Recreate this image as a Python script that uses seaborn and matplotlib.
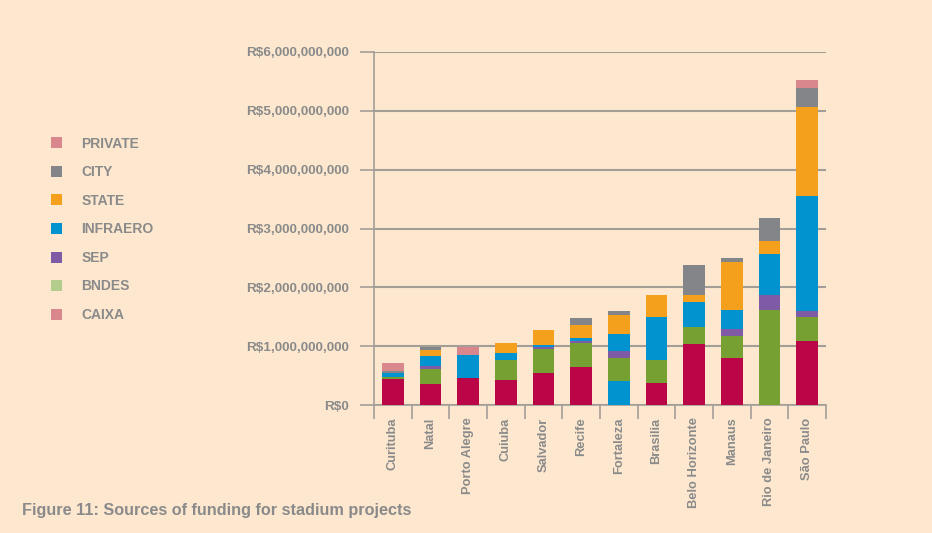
import matplotlib
matplotlib.use("Agg")
import matplotlib.pyplot as plt
import seaborn as sns
import numpy as np
from matplotlib.patches import Patch
from matplotlib.ticker import FuncFormatter, FixedLocator

cities = ["Curituba", "Natal", "Porto Alegre", "Cuiuba", "Salvador", "Recife",
          "Fortaleza", "Brasilia", "Belo Horizonte", "Manaus", "Rio de Janeiro", "São Paulo"]
# values in R$ billions (bottom to top of each stack)
caixa    = [0.446, 0.360, 0.463, 0.429, 0.549, 0.651, 0.411, 0.377, 1.029, 0.806, 0.000, 1.092]
bndes    = [0.034, 0.257, 0.000, 0.343, 0.411, 0.400, 0.394, 0.394, 0.291, 0.360, 1.623, 0.407]
sep      = [0.000, 0.051, 0.000, 0.000, 0.034, 0.034, 0.120, 0.000, 0.000, 0.120, 0.249, 0.102]
infraero = [0.069, 0.171, 0.394, 0.120, 0.034, 0.046, 0.274, 0.720, 0.429, 0.326, 0.701, 1.951]
state    = [0.000, 0.103, 0.000, 0.154, 0.240, 0.223, 0.326, 0.377, 0.120, 0.823, 0.215, 1.510]
city     = [0.034, 0.051, 0.000, 0.000, 0.000, 0.120, 0.069, 0.000, 0.514, 0.069, 0.390, 0.322]
private  = [0.137, 0.000, 0.137, 0.000, 0.000, 0.000, 0.000, 0.000, 0.000, 0.000, 0.000, 0.136]

series_names = ["CAIXA", "BNDES", "SEP", "INFRAERO", "STATE", "CITY", "PRIVATE"]
series_vals = [caixa, bndes, sep, infraero, state, city, private]
bar_colors = ["#BA0647", "#77A033", "#7F5BA6", "#0093D0", "#F5A01D", "#848589", "#D9868D"]
legend_colors = {"PRIVATE": "#D9868D", "CITY": "#848589", "STATE": "#F5A01D",
                 "INFRAERO": "#0093D0", "SEP": "#7F5BA6", "BNDES": "#B4CC8C", "CAIXA": "#D9868D"}
legend_order = ["PRIVATE", "CITY", "STATE", "INFRAERO", "SEP", "BNDES", "CAIXA"]

BG = "#FDE8CF"
TXT = "#8A8A8A"
GRID = "#A39D97"
FONT = ["Liberation Sans", "DejaVu Sans"]

sns.set_style("white")
plt.rcParams["font.family"] = FONT
plt.rcParams["font.weight"] = "bold"

fig = plt.figure(figsize=(9.32, 5.33), dpi=100, facecolor=BG)
ax = fig.add_axes([374/932, 1 - 405/533, (826-374)/932, (405-52)/533])
ax.set_facecolor(BG)

vals = np.array(series_vals) * 1e9
cum = np.cumsum(vals, axis=0)

width = 0.58
for i in range(len(series_names) - 1, -1, -1):
    if i == 0:
        pal = {c: bar_colors[0] for c in cities}
        pal["Fortaleza"] = bar_colors[3]
        sns.barplot(x=cities, y=cum[i], hue=cities, palette=pal, legend=False,
                    width=width, saturation=1, linewidth=0, ax=ax, zorder=3)
    else:
        sns.barplot(x=cities, y=cum[i], color=bar_colors[i], width=width,
                    saturation=1, linewidth=0, ax=ax, zorder=3)

ax.set_ylim(0, 6e9)
ax.set_xlim(-0.5, len(cities) - 0.5)
ax.set_yticks(np.arange(0, 6.01e9, 1e9))
ax.yaxis.set_major_formatter(FuncFormatter(lambda v, p: "R\\$" + f"{int(round(v)):,}"))
ax.grid(axis="y", color=GRID, linewidth=1.5, zorder=0)
ax.set_axisbelow(True)
for s in ["top", "right"]:
    ax.spines[s].set_visible(False)
for s in ["left", "bottom"]:
    ax.spines[s].set_color(GRID)
    ax.spines[s].set_linewidth(1.2)
ax.tick_params(axis="y", length=10, width=1.2, color=GRID, labelcolor=TXT,
               labelsize=9.7, pad=8, left=True)
ax.tick_params(axis="x", which="major", length=0, labelcolor=TXT, labelsize=9.3, pad=9)
ax.xaxis.set_minor_locator(FixedLocator(np.arange(-0.5, len(cities), 1.0)))
ax.tick_params(axis="x", which="minor", length=10, width=1.2, color=GRID, bottom=True)
for lab in ax.get_xticklabels():
    lab.set_rotation(90)
    lab.set_fontweight("bold")
for lab in ax.get_yticklabels():
    lab.set_fontweight("bold")
ax.set_xlabel("")
ax.set_ylabel("")

handles = [Patch(facecolor=legend_colors[n], edgecolor="none", label=n) for n in legend_order]
leg = fig.legend(handles=handles, loc="upper left", bbox_to_anchor=(45/932, 1 - 131/533),
                 frameon=False, fontsize=10, handlelength=0.85, handleheight=0.85,
                 handletextpad=1.35, labelspacing=1.05, borderaxespad=0)
for t in leg.get_texts():
    t.set_color(TXT)
    t.set_fontweight("bold")

fig.text(22/932, 1 - 510/533, "Figure 11: Sources of funding for stadium projects",
         color=TXT, fontsize=11.7, fontweight="bold", va="center", ha="left")

fig.savefig("out.png", dpi=100, facecolor=BG)
